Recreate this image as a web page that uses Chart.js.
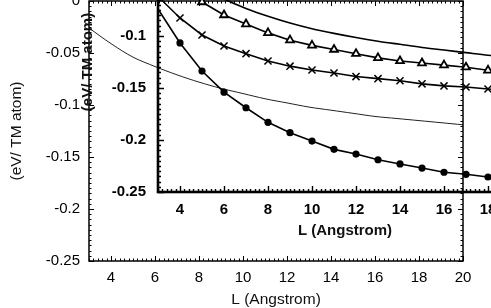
<!DOCTYPE html>
<html>
<head>
<meta charset="utf-8">
<script src="https://cdn.jsdelivr.net/npm/chart.js@4.4.0/dist/chart.umd.min.js"></script>
<style>
  html, body { margin: 0; padding: 0; background: #fff; overflow: hidden; }
  #wrap { position: relative; width: 491px; height: 308px; overflow: hidden; }
  /* chart.js keeps ~18px above the plot for the top tick label, so the canvases are shifted up */
  #outer { position: absolute; left: 0; top: -17px; }
  #inset { position: absolute; left: 0; top: -89px; }
</style>
</head>
<body>
<div id="wrap">
  <canvas id="outer" width="491" height="326"></canvas>
  <canvas id="inset" width="560" height="330"></canvas>
</div>
<script>
// L values (Angstrom)
const L = [3, 4, 5, 6, 7, 8, 9, 10, 11, 12, 13, 14, 15, 16, 17, 18, 19, 20];
const Louter = [3, 4, 5, 6, 7, 8, 9, 10, 11, 12, 13, 14, 15, 16, 17, 18, 19, 20, 21, 22];

// outer panel: thin curve
const outerCurve = [-0.026, -0.041, -0.054, -0.063, -0.071, -0.078, -0.084, -0.089, -0.094, -0.098,
                    -0.102, -0.105, -0.108, -0.111, -0.113, -0.115, -0.117, -0.119, -0.1205, -0.122];

// inset panel series
const insetPlain = [-0.018, -0.036, -0.052, -0.0645, -0.0735, -0.081, -0.0875, -0.093, -0.0975, -0.1015,
                    -0.105, -0.108, -0.111, -0.1135, -0.116, -0.1185, -0.1205, -0.1225];
const insetTriangle = [-0.033, -0.051, -0.0673, -0.0798, -0.0885, -0.097, -0.104, -0.109, -0.113, -0.117,
                       -0.121, -0.124, -0.126, -0.128, -0.130, -0.133, -0.135, -0.137];
const insetCross = [-0.062, -0.0827, -0.099, -0.1096, -0.117, -0.124, -0.129, -0.1327, -0.1356, -0.139,
                    -0.141, -0.143, -0.146, -0.148, -0.149, -0.151, -0.1525, -0.154];
const insetDot = [-0.074, -0.1067, -0.1337, -0.154, -0.169, -0.183, -0.193, -0.201, -0.209, -0.2135,
                  -0.219, -0.223, -0.227, -0.231, -0.233, -0.2356, -0.238, -0.240];

// ticks
const xTicks = [4, 6, 8, 10, 12, 14, 16, 18, 20];
const yTicks = [0, -0.05, -0.1, -0.15, -0.2, -0.25];
const yTickLabels = ['0', '-0.05', '-0.1', '-0.15', '-0.2', '-0.25'];

const xTitle = 'L (Angstrom)';
const yTitle = '(eV/ TM atom)';

const FONT = '"Liberation Sans", Arial, Helvetica, sans-serif';

function pts(xs, ys) {
  return ys.map((v, i) => ({ x: xs[i], y: v }));
}

// frame + inward major/minor ticks drawn from the scales
const framePlugin = {
  id: 'frame',
  afterDatasetsDraw(chart, args, o) {
    const { ctx, chartArea: a, scales: { x, y } } = chart;
    ctx.save();
    ctx.strokeStyle = '#000';
    ctx.lineWidth = o.tickWidth;
    ctx.beginPath();
    const nx = Math.round((x.max - x.min) / 0.2);
    for (let i = 0; i <= nx; i++) {
      const v = x.min + i * 0.2;
      const px = Math.round(x.getPixelForValue(v)) + 0.5;
      const major = Math.abs(v / 2 - Math.round(v / 2)) < 1e-6;
      const len = major ? o.major : o.minor;
      ctx.moveTo(px, a.bottom); ctx.lineTo(px, a.bottom - len);
      ctx.moveTo(px, a.top); ctx.lineTo(px, a.top + len);
    }
    const ny = Math.round((y.max - y.min) / 0.005);
    for (let i = 0; i <= ny; i++) {
      const v = y.min + i * 0.005;
      const py = Math.round(y.getPixelForValue(v)) + 0.5;
      const major = i % 10 === 0;
      const len = major ? o.major : o.minor;
      ctx.moveTo(a.left, py); ctx.lineTo(a.left + len, py);
      ctx.moveTo(a.right, py); ctx.lineTo(a.right - len, py);
    }
    ctx.stroke();
    ctx.lineWidth = o.width;
    ctx.strokeRect(a.left, a.top, a.right - a.left, a.bottom - a.top);
    ctx.restore();
  }
};

function axes(cfg) {
  return {
    x: {
      type: 'linear', min: 3, max: 20,
      afterFit: s => { s.height = cfg.xHeight; },
      afterBuildTicks: s => { s.ticks = xTicks.map(v => ({ value: v })); },
      grid: { display: false, drawTicks: false },
      border: { display: false },
      ticks: {
        color: '#000', padding: cfg.xPad, maxRotation: 0, autoSkip: false,
        font: { family: FONT, size: cfg.tickSize, weight: cfg.weight },
        callback: v => String(v)
      },
      title: {
        display: true, text: xTitle, color: '#111',
        padding: { top: 0, bottom: cfg.xTitlePad },
        font: { family: FONT, size: cfg.titleSize, weight: cfg.weight }
      }
    },
    y: {
      type: 'linear', min: -0.25, max: 0,
      afterFit: s => { s.width = cfg.yWidth; },
      afterBuildTicks: s => { s.ticks = yTicks.map(v => ({ value: v })); },
      grid: { display: false, drawTicks: false },
      border: { display: false },
      ticks: {
        color: '#000', padding: cfg.yPad, autoSkip: false,
        font: { family: FONT, size: cfg.tickSize, weight: cfg.weight },
        callback: v => yTickLabels[yTicks.findIndex(t => Math.abs(t - v) < 1e-9)]
      },
      title: {
        display: true, text: yTitle, color: '#111',
        padding: { top: cfg.yTitlePad, bottom: 0 },
        font: { family: FONT, size: cfg.titleSize, weight: cfg.weight }
      }
    }
  };
}

const common = {
  responsive: false,
  animation: false,
  devicePixelRatio: 1,
  plugins: { legend: { display: false }, tooltip: { enabled: false } },
};

// outer panel
new Chart(document.getElementById('outer'), {
  type: 'line',
  data: {
    datasets: [{
      data: pts(Louter, outerCurve),
      borderColor: '#222', borderWidth: 1, pointRadius: 0, tension: 0.3, clip: false
    }]
  },
  options: {
    ...common,
    layout: { autoPadding: false, padding: { left: 0, top: 0, right: 28, bottom: 0 } },
    scales: axes({ xHeight: 48, yWidth: 89, xPad: 8, yPad: 9, tickSize: 15, titleSize: 15.5,
                   weight: 'normal', xTitlePad: 0, yTitlePad: 7 }),
    plugins: { ...common.plugins, frame: { width: 1.5, tickWidth: 1, major: 5, minor: 2.5 } }
  },
  plugins: [framePlugin]
});

// inset panel
new Chart(document.getElementById('inset'), {
  type: 'line',
  data: {
    datasets: [
      { data: pts(L, insetPlain), borderColor: '#000', borderWidth: 1.6, pointRadius: 0, tension: 0.3 },
      { data: pts(L, insetTriangle), borderColor: '#000', borderWidth: 1.6, tension: 0,
        pointStyle: 'triangle', pointRadius: 4.5, pointBorderWidth: 1.8,
        pointBackgroundColor: '#fff', pointBorderColor: '#000' },
      { data: pts(L, insetCross), borderColor: '#000', borderWidth: 1.6, tension: 0,
        pointStyle: 'crossRot', pointRadius: 5, pointBorderWidth: 1.5, pointBorderColor: '#000' },
      { data: pts(L, insetDot), borderColor: '#000', borderWidth: 1.6, tension: 0,
        pointStyle: 'circle', pointRadius: L.map((v, i) => i === 0 ? 0 : 3.6), pointBorderWidth: 0,
        pointBackgroundColor: '#000' }
    ]
  },
  options: {
    ...common,
    layout: { autoPadding: false, padding: { left: 0, top: 11, right: 28, bottom: 0 } },
    scales: axes({ xHeight: 49, yWidth: 158, xPad: 9, yPad: 12, tickSize: 15, titleSize: 15,
                   weight: 'bold', xTitlePad: 1, yTitlePad: 79 }),
    plugins: { ...common.plugins, frame: { width: 2.6, tickWidth: 1.4, major: 6, minor: 3 } }
  },
  plugins: [framePlugin]
});
</script>
</body>
</html>
